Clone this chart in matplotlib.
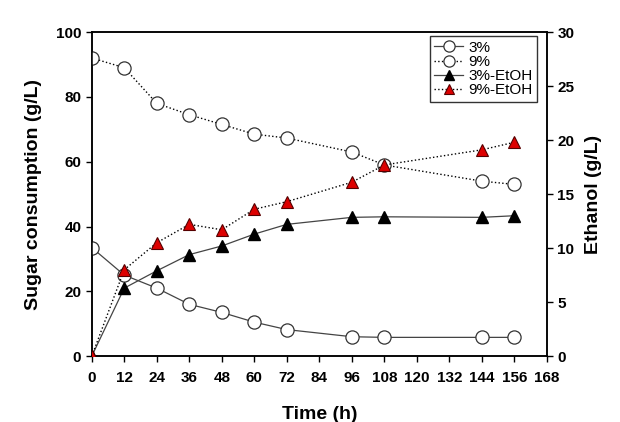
import matplotlib
matplotlib.use("Agg")
import matplotlib.pyplot as plt

plt.rcParams["font.family"] = ["Liberation Sans", "DejaVu Sans"]

time_h = [0, 12, 24, 36, 48, 60, 72, 96, 108, 144, 156]
sugar_3 = [33.5, 25.0, 21.0, 16.0, 13.5, 10.5, 8.2, 6.0, 5.8, 5.8, 5.8]
sugar_9 = [92.0, 89.0, 78.0, 74.5, 71.5, 68.5, 67.3, 63.0, 59.0, 54.0, 53.0]
etoh_3 = [0.0, 6.3, 7.9, 9.4, 10.2, 11.3, 12.2, 12.85, 12.9, 12.85, 13.0]
etoh_9 = [0.0, 8.0, 10.5, 12.2, 11.7, 13.6, 14.3, 16.1, 17.7, 19.1, 19.8]

fig = plt.figure(figsize=(6.2, 4.22), dpi=100)
ax = fig.add_axes([0.148, 0.156, 0.734, 0.768])
ax2 = ax.twinx()

l1, = ax.plot(time_h, sugar_3, "-", color="#444444", lw=0.9, marker="o", ms=9.5,
              mfc="white", mec="#333333", mew=0.9, label="3%")
l2, = ax.plot(time_h, sugar_9, ":", color="black", lw=1.0, marker="o", ms=9.5,
              mfc="white", mec="#333333", mew=0.9, label="9%")
l3, = ax2.plot(time_h, etoh_3, "-", color="#444444", lw=0.9, marker="^", ms=8.5,
               mfc="black", mec="black", label="3%-EtOH")
l4, = ax2.plot(time_h, etoh_9, ":", color="black", lw=1.0, marker="^", ms=8.5,
               mfc="#dd0000", mec="#550000", mew=0.8, label="9%-EtOH")

ax.set_xlim(0, 168)
ax.set_ylim(0, 100)
ax2.set_ylim(0, 30)
ax.set_xticks(range(0, 169, 12))
ax.set_yticks(range(0, 101, 20))
ax2.set_yticks(range(0, 31, 5))
for a in (ax, ax2):
    a.tick_params(direction="out", length=4, width=1, labelsize=11)
    for lab in a.get_xticklabels() + a.get_yticklabels():
        lab.set_fontweight("bold")
    for s in a.spines.values():
        s.set_linewidth(1.1)
        s.set_zorder(0)
ax.tick_params(axis="x", pad=7)
ax2.set_zorder(ax.get_zorder() + 1)
ax.set_xlabel("Time (h)", fontsize=14, fontweight="bold", labelpad=15)
ax.set_ylabel("Sugar consumption (g/L)", fontsize=14, fontweight="bold", labelpad=10)
ax2.set_ylabel("Ethanol (g/L)", fontsize=14, fontweight="bold", labelpad=8)

leg = ax2.legend(handles=[l1, l2, l3, l4], loc="upper right", fontsize=11,
                 frameon=True, fancybox=False, edgecolor="black",
                 handlelength=1.9, handletextpad=0.3, borderpad=0.3,
                 labelspacing=0.02, markerscale=0.85, borderaxespad=0,
                 bbox_to_anchor=(0.978, 0.988))
leg.get_frame().set_linewidth(1.0)

fig.savefig("out.png", dpi=100)
